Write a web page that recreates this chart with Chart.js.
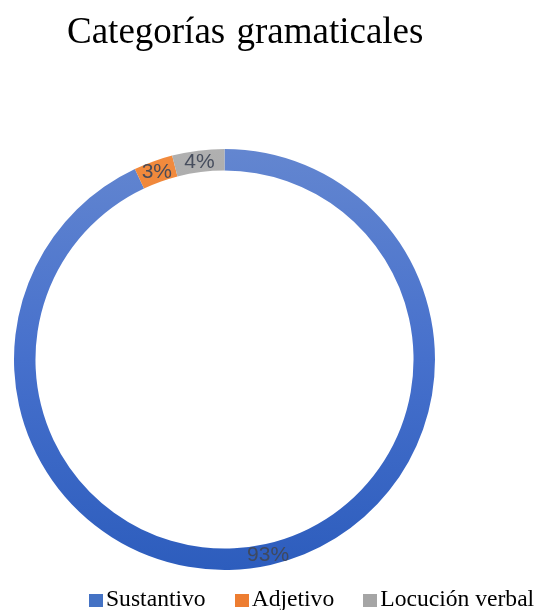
<!DOCTYPE html>
<html>
<head>
<meta charset="utf-8">
<script src="https://cdn.jsdelivr.net/npm/chart.js@4/dist/chart.umd.min.js"></script>
<style>
  body { margin: 0; background: #fff; }
  #wrap { position: relative; width: 539px; height: 610px; overflow: hidden; }
  #chart { position: absolute; left: 0; top: 0; }
  #title {
    position: absolute; left: 67px; top: 12px;
    font: 37px/37px "Liberation Serif", "Times New Roman", serif;
    word-spacing: 2px; color: #000; white-space: nowrap;
  }
  #legend {
    position: absolute; left: 89px; top: 587px;
    display: flex; gap: 29px;
    font: 23.6px/23px "Liberation Serif", "Times New Roman", serif; color: #000;
    white-space: nowrap;
  }
  #legend span.item { display: flex; align-items: center; }
  #legend span.box { width: 14px; height: 13px; margin-right: 3px; margin-top: 3px; }
</style>
</head>
<body>
<div id="wrap">
  <canvas id="chart" width="539" height="610"></canvas>
  <div id="title">Categorías gramaticales</div>
  <div id="legend"></div>
</div>
<script>
// Chart data
const categories = ['Sustantivo', 'Adjetivo', 'Locución verbal'];
const percentages = [93, 3, 4];
const legendColors = ['#4472c4', '#ed7d31', '#a5a5a5'];

const canvas = document.getElementById('chart');

// Vertical gradient per slice, like the Excel style
function sliceFill(context) {
  const chart = context.chart;
  const area = chart.chartArea;
  if (!area) return legendColors[context.dataIndex];
  const g = chart.ctx.createLinearGradient(0, area.top, 0, area.bottom);
  if (context.dataIndex === 0) {
    g.addColorStop(0, '#6386d0');
    g.addColorStop(0.5, '#4670cc');
    g.addColorStop(1, '#2d5dbd');
  } else if (context.dataIndex === 1) {
    g.addColorStop(0, '#f28b3e');
    g.addColorStop(1, '#d9691f');
  } else {
    g.addColorStop(0, '#b0b0b0');
    g.addColorStop(1, '#939393');
  }
  return g;
}

// Draw percentage labels in the middle of each ring segment
const sliceLabels = {
  id: 'sliceLabels',
  afterDatasetsDraw(chart) {
    const ctx = chart.ctx;
    const meta = chart.getDatasetMeta(0);
    ctx.save();
    ctx.font = '21px "Liberation Sans", Arial, sans-serif';
    ctx.fillStyle = 'rgba(64, 72, 88, 0.95)';
    ctx.textAlign = 'center';
    ctx.textBaseline = 'middle';
    meta.data.forEach((arc, i) => {
      const pos = arc.tooltipPosition();
      ctx.fillText(percentages[i] + '%', pos.x, pos.y + 1);
    });
    ctx.restore();
  }
};

new Chart(canvas, {
  type: 'doughnut',
  data: {
    labels: categories,
    datasets: [{
      data: percentages,
      backgroundColor: sliceFill,
      borderWidth: 0,
      hoverOffset: 0
    }]
  },
  options: {
    responsive: false,
    animation: false,
    cutout: '89.8%',
    layout: { padding: { left: 14, right: 104, top: 149, bottom: 40 } },
    plugins: {
      legend: { display: false },
      title: { display: false },
      tooltip: { enabled: false }
    }
  },
  plugins: [sliceLabels]
});

// Legend built from the same arrays
const legendEl = document.getElementById('legend');
categories.forEach((name, i) => {
  const item = document.createElement('span');
  item.className = 'item';
  item.innerHTML = `<span class="box" style="background:${legendColors[i]}"></span>${name}`;
  legendEl.appendChild(item);
});
</script>
</body>
</html>
